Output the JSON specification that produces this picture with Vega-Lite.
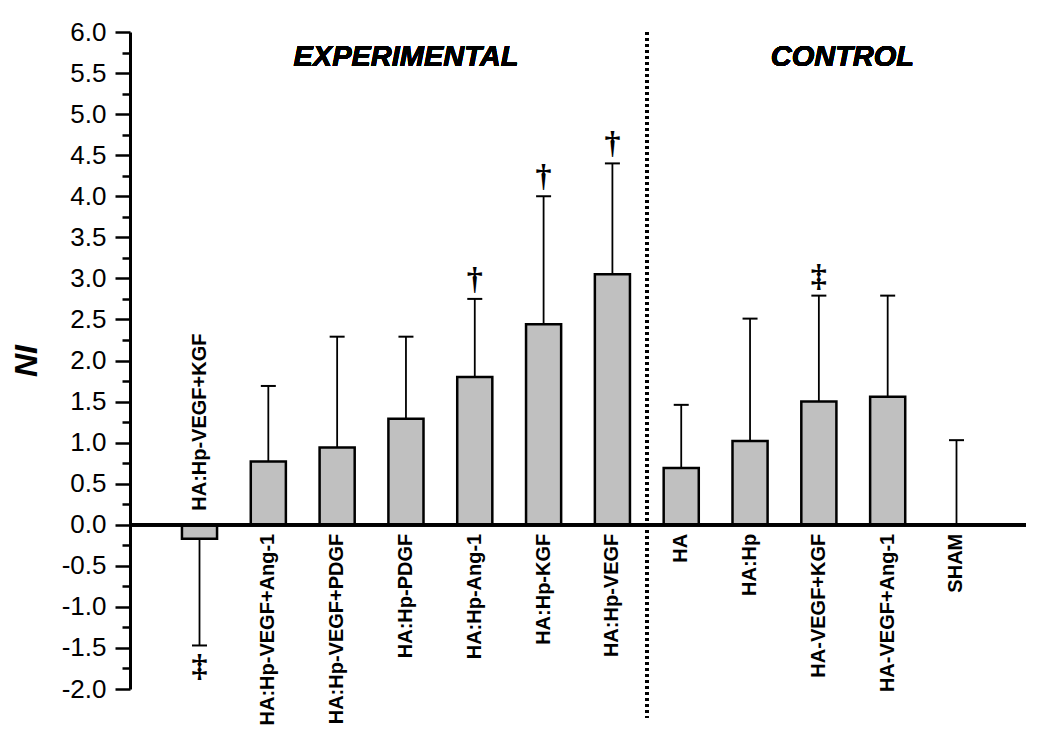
{
  "$schema": "https://vega.github.io/schema/vega-lite/v6.json",
  "autosize": "none",
  "width": 896,
  "height": 657,
  "padding": {"left": 130, "top": 32, "right": 24, "bottom": 55},
  "background": "white",
  "config": {"view": {"stroke": null}},
  "data": {"values": [
    {"group": "HA:Hp-VEGF+KGF", "value": -0.17, "err": -1.47, "sig": "‡"},
    {"group": "HA:Hp-VEGF+Ang-1", "value": 0.77, "err": 1.69, "sig": ""},
    {"group": "HA:Hp-VEGF+PDGF", "value": 0.94, "err": 2.29, "sig": ""},
    {"group": "HA:Hp-PDGF", "value": 1.29, "err": 2.29, "sig": ""},
    {"group": "HA:Hp-Ang-1", "value": 1.80, "err": 2.75, "sig": "†"},
    {"group": "HA:Hp-KGF", "value": 2.44, "err": 4.0, "sig": "†"},
    {"group": "HA:Hp-VEGF", "value": 3.05, "err": 4.40, "sig": "†"},
    {"group": "HA", "value": 0.69, "err": 1.46, "sig": ""},
    {"group": "HA:Hp", "value": 1.02, "err": 2.51, "sig": ""},
    {"group": "HA-VEGF+KGF", "value": 1.50, "err": 2.79, "sig": "‡"},
    {"group": "HA-VEGF+Ang-1", "value": 1.56, "err": 2.79, "sig": ""},
    {"group": "SHAM", "value": 0, "err": 1.03, "sig": ""}
  ]},
  "resolve": {"axis": {"y": "independent"}},
  "layer": [
    {
      "mark": {"type": "rule", "stroke": "black", "strokeWidth": 1.8},
      "encoding": {
        "x": {"field": "group", "type": "nominal", "axis": null,
              "scale": {"domain": ["HA:Hp-VEGF+KGF", "HA:Hp-VEGF+Ang-1", "HA:Hp-VEGF+PDGF", "HA:Hp-PDGF", "HA:Hp-Ang-1", "HA:Hp-KGF", "HA:Hp-VEGF", "HA", "HA:Hp", "HA-VEGF+KGF", "HA-VEGF+Ang-1", "SHAM"],
                        "paddingInner": 0.49, "paddingOuter": 0.755}},
        "y": {"field": "value", "type": "quantitative",
              "scale": {"domain": [-2, 6], "nice": false, "zero": false},
              "axis": {"orient": "left", "values": [-1.75, -1.25, -0.75, -0.25, 0.25, 0.75, 1.25, 1.75, 2.25, 2.75, 3.25, 3.75, 4.25, 4.75, 5.25, 5.75],
                       "labels": false, "domain": false, "grid": false, "title": null,
                       "tickSize": 8, "tickWidth": 2.5, "tickColor": "black"}},
        "y2": {"field": "err"}
      }
    },
    {
      "mark": {"type": "bar", "fill": "#c0c0c0", "stroke": "black", "strokeWidth": 2.5},
      "encoding": {
        "x": {"field": "group", "type": "nominal", "axis": null},
        "y": {"field": "value", "type": "quantitative",
              "axis": {"orient": "left", "values": [-2, -1.5, -1, -0.5, 0, 0.5, 1, 1.5, 2, 2.5, 3, 3.5, 4, 4.5, 5, 5.5, 6],
                       "labelExpr": "replace(format(datum.value, '.1f'), '\u2212', '-')",
                       "grid": false, "tickSize": 15, "tickWidth": 2.5, "tickColor": "black",
                       "domainColor": "black", "domainWidth": 3,
                       "labelFont": "Liberation Sans", "labelFontSize": 26, "labelColor": "black", "labelPadding": 9,
                       "labelOverlap": false,
                       "title": "NI", "titleFont": "Liberation Sans", "titleFontSize": 32, "titleFontWeight": "bold",
                       "titleFontStyle": "italic", "titleColor": "black", "titlePadding": 18}}
      }
    },
    {
      "mark": {"type": "tick", "color": "black", "size": 15, "thickness": 2, "opacity": 1},
      "encoding": {
        "x": {"field": "group", "type": "nominal", "axis": null},
        "y": {"field": "err", "type": "quantitative", "axis": null}
      }
    },
    {
      "mark": {"type": "rule", "stroke": "black", "strokeWidth": 3},
      "encoding": {"y": {"datum": 0, "type": "quantitative", "axis": null}}
    },
    {
      "mark": {"type": "rule", "stroke": "black", "strokeWidth": 3, "strokeDash": [3, 3]},
      "encoding": {
        "x": {"datum": "HA", "type": "nominal", "bandPosition": -0.48, "axis": null},
        "y": {"datum": 6, "type": "quantitative", "axis": null},
        "y2": {"datum": -2.35}
      }
    },
    {
      "transform": [{"filter": "datum.value >= 0"}],
      "mark": {"type": "text", "angle": 270, "align": "right", "baseline": "middle", "dx": -9,
               "font": "Liberation Sans", "fontSize": 20, "fontWeight": "bold", "color": "black"},
      "encoding": {
        "x": {"field": "group", "type": "nominal", "axis": null},
        "y": {"datum": 0, "type": "quantitative", "axis": null},
        "text": {"field": "group"}
      }
    },
    {
      "transform": [{"filter": "datum.value < 0"}],
      "mark": {"type": "text", "angle": 270, "align": "left", "baseline": "middle", "dx": 14,
               "font": "Liberation Sans", "fontSize": 20, "fontWeight": "bold", "color": "black"},
      "encoding": {
        "x": {"field": "group", "type": "nominal", "axis": null},
        "y": {"datum": 0, "type": "quantitative", "axis": null},
        "text": {"field": "group"}
      }
    },
    {
      "transform": [{"filter": "datum.sig != '' && datum.err > 0"}],
      "mark": {"type": "text", "baseline": "alphabetic", "dy": -10, "font": "Liberation Serif", "fontSize": 32, "fontWeight": "bold", "color": "black"},
      "encoding": {
        "x": {"field": "group", "type": "nominal", "axis": null},
        "y": {"field": "err", "type": "quantitative", "axis": null},
        "text": {"field": "sig"}
      }
    },
    {
      "transform": [{"filter": "datum.sig != '' && datum.err < 0"}],
      "mark": {"type": "text", "baseline": "top", "dy": 6, "font": "Liberation Serif", "fontSize": 32, "fontWeight": "bold", "color": "black"},
      "encoding": {
        "x": {"field": "group", "type": "nominal", "axis": null},
        "y": {"field": "err", "type": "quantitative", "axis": null},
        "text": {"field": "sig"}
      }
    },
    {
      "mark": {"type": "text", "baseline": "middle", "align": "center", "font": "Liberation Sans", "fontSize": 29,
               "fontWeight": "bold", "fontStyle": "italic", "color": "black"},
      "encoding": {
        "x": {"datum": "HA:Hp-PDGF", "type": "nominal", "bandPosition": 0.5, "axis": null},
        "y": {"datum": 5.7, "type": "quantitative", "axis": null},
        "text": {"datum": "EXPERIMENTAL"}
      }
    },
    {
      "mark": {"type": "text", "baseline": "middle", "align": "center", "font": "Liberation Sans", "fontSize": 29,
               "fontWeight": "bold", "fontStyle": "italic", "color": "black"},
      "encoding": {
        "x": {"datum": "HA-VEGF+KGF", "type": "nominal", "bandPosition": 1.17, "axis": null},
        "y": {"datum": 5.7, "type": "quantitative", "axis": null},
        "text": {"datum": "CONTROL"}
      }
    }
  ]
}
